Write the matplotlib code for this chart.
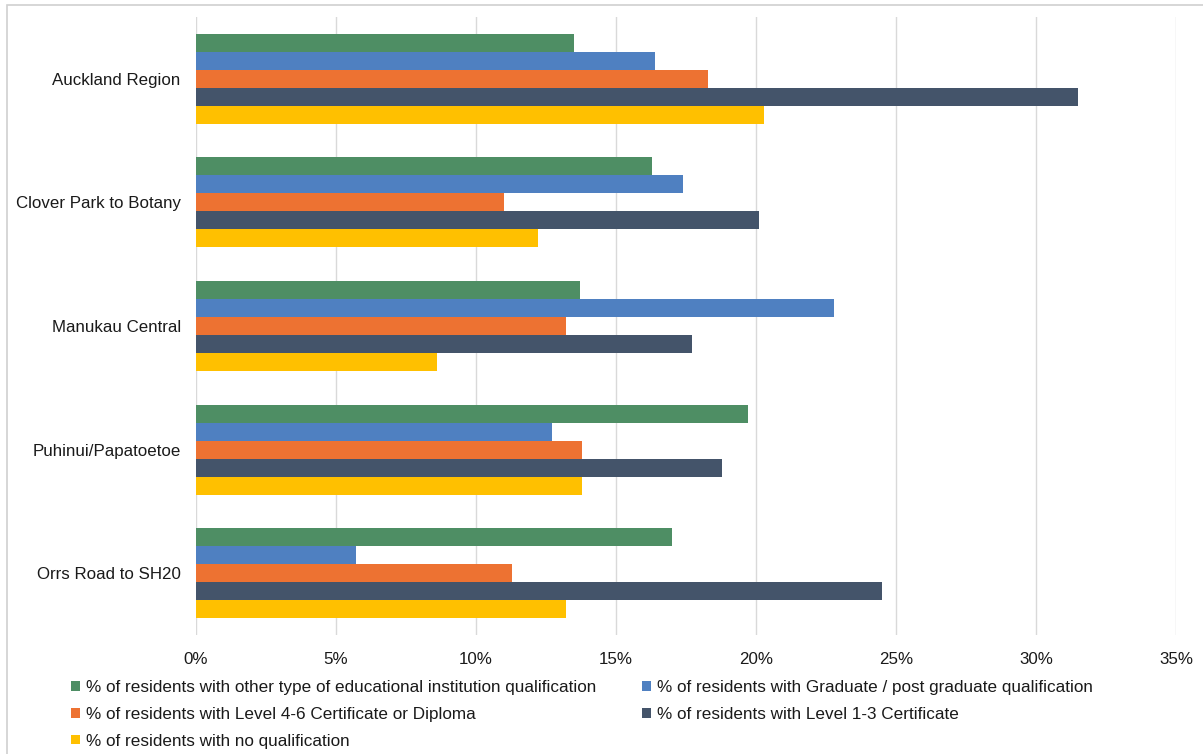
import numpy as np
import matplotlib
matplotlib.use("Agg")
import matplotlib.pyplot as plt
from matplotlib.patches import Rectangle

plt.rcParams['font.family'] = ['Liberation Sans', 'DejaVu Sans']

# Areas, top to bottom
areas = ['Auckland Region', 'Clover Park to Botany', 'Manukau Central',
         'Puhinui/Papatoetoe', 'Orrs Road to SH20']

# Series (percent), one value per area
other_inst = [13.5, 16.3, 13.7, 19.7, 17.0]
graduate = [16.4, 17.4, 22.8, 12.7, 5.7]
level_4_6 = [18.3, 11.0, 13.2, 13.8, 11.3]
level_1_3 = [31.5, 20.1, 17.7, 18.8, 24.5]
no_qual = [20.3, 12.2, 8.6, 13.8, 13.2]

series_labels = [
    '% of residents with other type of educational institution qualification',
    '% of residents with Graduate / post graduate qualification',
    '% of residents with Level 4-6 Certificate or Diploma',
    '% of residents with Level 1-3 Certificate',
    '% of residents with no qualification',
]
colors = ['#4E8E64', '#4F80C1', '#ED7232', '#44546A', '#FFC000']
series = [other_inst, graduate, level_4_6, level_1_3, no_qual]

fig = plt.figure(figsize=(12.03, 7.54), dpi=100)
W, H = 1203, 754
ax = fig.add_axes([196 / W, 1 - 635 / H, (1176 - 196) / W, (635 - 17) / H])

y = np.arange(len(areas))
bh = 0.1456
handles = []
for i, (vals, lab, c) in enumerate(zip(series, series_labels, colors)):
    b = ax.barh(y + (i - 2) * bh, vals, height=bh, color=c, label=lab)
    handles.append(b)

ax.set_ylim(len(areas) - 0.5, -0.5)
ax.set_xlim(0, 35)
ax.set_xticks(np.arange(0, 36, 5))
ax.set_xticklabels([f'{v}%' for v in range(0, 36, 5)])
ax.set_yticks(y)
ax.set_yticklabels(areas)
ax.tick_params(axis='both', length=0, labelsize=12.2, colors='#1a1a1a')
ax.tick_params(axis='x', pad=12)
ax.tick_params(axis='y', pad=11)
ax.grid(axis='x', color='#d9d9d9', linewidth=1)
ax.set_axisbelow(True)
for s in ax.spines.values():
    s.set_visible(False)

# legend: column-major order gives rows (green, blue), (orange, dark), (yellow)
order = [0, 2, 4, 1, 3]
fig.legend([handles[k] for k in order], [series_labels[k] for k in order],
           loc='upper left', bbox_to_anchor=(56 / W, 1 - 665 / H), ncol=2,
           frameon=False, fontsize=12.3, handlelength=0.5, handleheight=0.5,
           handletextpad=0.35, columnspacing=2.7, labelspacing=0.68,
           labelcolor='#1a1a1a')

# chart outer border
fig.patches.append(Rectangle((7 / W, -0.1), 1.2, 1 - 5 / H + 0.1,
                             transform=fig.transFigure, fill=False,
                             edgecolor='#d0d0d0', linewidth=1.2))

fig.savefig('out.png', dpi=100)
